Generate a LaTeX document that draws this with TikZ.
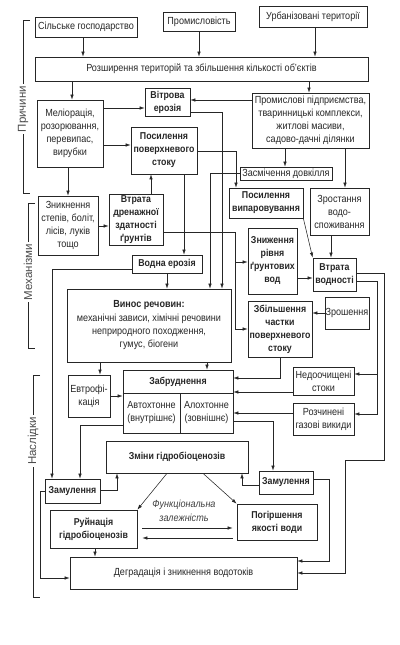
\documentclass[tikz,border=0pt]{standalone}
\usepackage{fontspec}
\setmainfont{Liberation Sans}[FakeStretch=0.88]
\newfontfamily\secfont{Liberation Sans}
\usetikzlibrary{arrows.meta,calc}
\newcommand\bxn[7]{\node[#1, minimum width={#5-#3}, minimum height={#6-#4}] (#2) at ({(#3+#5)/2},{(#4+#6)/2}) {#7};}
\tikzset{
 bx/.style={draw=black!85, line width=0.7pt, align=center, inner sep=0.5pt, text=black!85, font=\fontsize{10.3}{13}\selectfont},
 bb/.style={bx, font=\fontsize{10}{13}\selectfont\bfseries},
 arr/.style={draw=black!85, line width=0.55pt, -{Latex[length=5pt,width=3.4pt]}},
 ln/.style={draw=black!85, line width=0.55pt},
 sect/.style={rotate=90, fill=white, inner sep=2pt, text=black!70, font=\secfont\fontsize{11.5}{13}\selectfont},
}
\begin{document}
\begin{tikzpicture}[x=1pt,y=-1pt]
\useasboundingbox (0,0) rectangle (399,645);
% nodes
\bxn{bx}{selsk}{35}{17}{137}{37}{Сільське господарство}
\bxn{bx}{prom}{163}{12}{235}{31}{Промисловість}
\bxn{bx}{urb}{259}{6}{367}{27}{Урбанізовані території}
\bxn{bx}{rozsh}{35}{57}{368}{81}{Розширення територій та збільшення кількості об’єктів}
\bxn{bx}{melior}{37}{100}{103}{167}{Меліорація,\\розорювання,\\перевипас,\\вирубки}
\bxn{bb}{vitr}{145}{88}{190}{116}{Вітрова\\ерозія}
\bxn{bx}{prommisl}{252}{93}{369}{148}{Промислові підприємства,\\тваринницькі комплекси,\\житлові масиви,\\садово-дачні ділянки}
\bxn{bb}{posstok}{131}{127}{197}{174}{Посилення\\поверхневого\\стоку}
\bxn{bx}{zasm}{240}{167}{332}{180}{Засмічення довкілля}
\bxn{bb}{posvyp}{229}{188}{303}{218}{Посилення\\випаровування}
\bxn{bx}{zrost}{310}{188}{369}{235}{Зростання\\водо-\\споживання}
\bxn{bx}{znykn}{38}{196}{98}{255}{Зникнення\\степів, боліт,\\лісів, луків\\тощо}
\bxn{bb}{vtrdren}{109}{194}{163}{245}{Втрата\\дренажної\\здатності\\ґрунтів}
\bxn{bb}{znyzh}{248}{228}{297}{294}{Зниження\\рівня\\ґрунтових\\вод}
\bxn{bb}{vtrvod}{313}{258}{356}{291}{Втрата\\водності}
\bxn{bb}{vodna}{132}{255}{202}{273}{Водна ерозія}
\bxn{bx}{vynos}{67}{289}{231}{362}{\textbf{Винос речовин:}\\[1pt]механічні зависи, хімічні речовини\\неприродного походження,\\гумус, біогени}
\bxn{bb}{zbilsh}{248}{301}{312}{357}{Збільшення\\частки\\поверхневого\\стоку}
\bxn{bx}{zrosh}{325}{297}{369}{329}{Зрошення}
\bxn{bx}{evtr}{68}{375}{110}{417}{Евтрофі-\\кація}
\bxn{bx}{zabr}{123}{370}{233}{433}{}
\bxn{bx}{nedooch}{293}{367}{354}{395}{Недоочищені\\стоки}
\bxn{bx}{rozch}{293}{403}{354}{435}{Розчинені\\газові викиди}
\bxn{bb}{zmin}{106}{441}{248}{473}{Зміни гідробіоценозів}
\bxn{bb}{zamL}{45}{479}{100}{503}{Замулення}
\bxn{bb}{zamR}{259}{471}{313}{494}{Замулення}
\bxn{bb}{ruin}{50}{510}{137}{548}{Руйнація\\гідробіоценозів}
\bxn{bb}{pogir}{237}{504}{317}{540}{Погіршення\\якості води}
\bxn{bx}{degr}{70}{557}{297}{589}{Деградація і зникнення водотоків}
% inside Забруднення
\draw[draw=black!85, line width=0.7pt] (zabr.west |- 0,393) -- (zabr.east |- 0,393);
\draw[draw=black!85, line width=0.7pt] (180,393) -- (zabr.south -| 180,0);
\node[font=\fontsize{10}{13}\selectfont\bfseries, text=black!85] (zabrH) at (178,381.5) {Забруднення};
\node[align=center, inner sep=0pt, font=\fontsize{10.3}{13}\selectfont, text=black!85] (zabrA) at (151.5,413) {Автохтонне\\(внутрішнє)};
\node[align=center, inner sep=0pt, font=\fontsize{10.3}{13}\selectfont, text=black!85] (zabrB) at (206.5,413) {Алохтонне\\(зовнішнє)};
% functional dependence
\node[align=center, inner sep=0pt, font=\fontsize{10.3}{13.5}\selectfont\itshape, text=black!75] (func) at (184,511) {Функціональна\\залежність};
% section brackets
\draw[ln] (30,20) -- (23,20) -- (23,193) -- (30,193);
\node[sect] (sp) at (23,109) {Причини};
\draw[ln] (35,203) -- (28,203) -- (28,348) -- (35,348);
\node[sect] (sm) at (28,272) {Механізми};
\draw[ln] (40,375) -- (33,375) -- (33,597) -- (40,597);
\node[sect] (sn) at (33,441) {Наслідки};
% arrows top
\draw[arr] (selsk.south -| 83,0) -- (rozsh.north -| 83,0);
\draw[arr] (prom.south -| 199,0) -- (rozsh.north -| 199,0);
\draw[arr] (urb.south -| 315,0) -- (rozsh.north -| 315,0);
\draw[arr] (rozsh.south -| 72,0) -- (melior.north -| 72,0);
\draw[arr] (rozsh.south -| 309,0) -- (prommisl.north -| 309,0);
\draw[arr] (melior.east |- 0,108) -- (vitr.west |- 0,108);
\draw[arr] (prommisl.west |- 0,100) -- (vitr.east |- 0,100);
\draw[arr] (melior.east |- 0,145) -- (posstok.west |- 0,145);
\draw[arr] (prommisl.south -| 285,0) -- (zasm.north -| 285,0);
\draw[arr] (prommisl.south -| 345,0) -- (zrost.north -| 345,0);
\draw[arr] (posstok.east |- 0,151) -| (posvyp.north -| 236,0);
\draw[arr] (melior.south -| 68,0) -- (znykn.north -| 68,0);
\draw[arr] (znykn.east |- 0,226) -- (vtrdren.west |- 0,226);
\draw[arr] (vtrdren.north -| 151,0) -- (posstok.south -| 151,0);
\draw[arr] (posstok.south -| 184,0) -- (vodna.north -| 184,0);
\draw[arr] (vtrdren.east |- 0,232) -| (235,262) -- (znyzh.west |- 0,262);
\draw[arr] (235,262) |- (zbilsh.west |- 0,329);
\draw[arr] (zrost.south -| 331,0) -- (vtrvod.north -| 331,0);
\draw[arr] (posvyp.south east) -- (vtrvod.north west);
\draw[arr] (znyzh.east |- 0,278) -- (vtrvod.west |- 0,278);
\draw[arr] (zasm.west) -| (vynos.north -| 210,0);
\draw[arr] (vitr.east |- 0,112) -| (vynos.north -| 222,0);
\draw[arr] (vodna.south -| 167,0) -- (vynos.north -| 167,0);
\draw[arr] (vodna.west |- 0,269) -| (zamL.north -| 52,0);
\draw[arr] (zrosh.west |- 0,313) -- (zbilsh.east |- 0,313);
\draw[arr] (vtrvod.east |- 0,281) -| (377,374) -- (nedooch.east |- 0,374);
\draw[arr] (377,374) |- (rozch.east |- 0,414);
\draw[arr] (vtrvod.east |- 0,273) -| (384,460) -| (345,573) -- (degr.east |- 0,573);
% lower arrows
\draw[arr] (vynos.south -| 100,0) -- (evtr.north -| 100,0);
\draw[arr] (vynos.south -| 207,0) -- (zabr.north -| 207,0);
\draw[arr] (evtr.east |- 0,396) -- (zabr.west |- 0,396);
\draw[arr] (zbilsh.south -| 280,0) |- (zabr.east |- 0,378);
\draw[arr] (nedooch.west |- 0,392) -- (zabr.east |- 0,392);
\draw[arr] (rozch.west |- 0,413) -- (zabr.east |- 0,413);
\draw[arr] (zabr.west |- 0,425) -| (zamL.north -| 80,0);
\draw[arr] (zabr.east |- 0,421) -| (zamR.north -| 273,0);
\draw[arr] (zamL.east |- 0,490) -| (zmin.south -| 117,0);
\draw[arr] (zamR.west |- 0,485) -| (zmin.south -| 242,0);
\draw[arr] (zmin.south -| 167,0) -- (ruin.north east);
\draw[arr] (zmin.south -| 203,0) -- (pogir.north west);
\draw[arr, shorten <=5pt, shorten >=4pt] (ruin.east |- 0,528) -- (pogir.west |- 0,528);
\draw[arr, shorten <=4pt, shorten >=5pt] (pogir.west |- 0,538) -- (ruin.east |- 0,538);
\draw[arr] (ruin.south -| 95,0) -- (degr.north -| 95,0);
\draw[arr] (zamL.west |- 0,491) -| (40,578) -- (degr.west |- 0,578);
\draw[arr] (zamR.east |- 0,479) -| (329,561) -- (degr.east |- 0,561);
\end{tikzpicture}
\end{document}
